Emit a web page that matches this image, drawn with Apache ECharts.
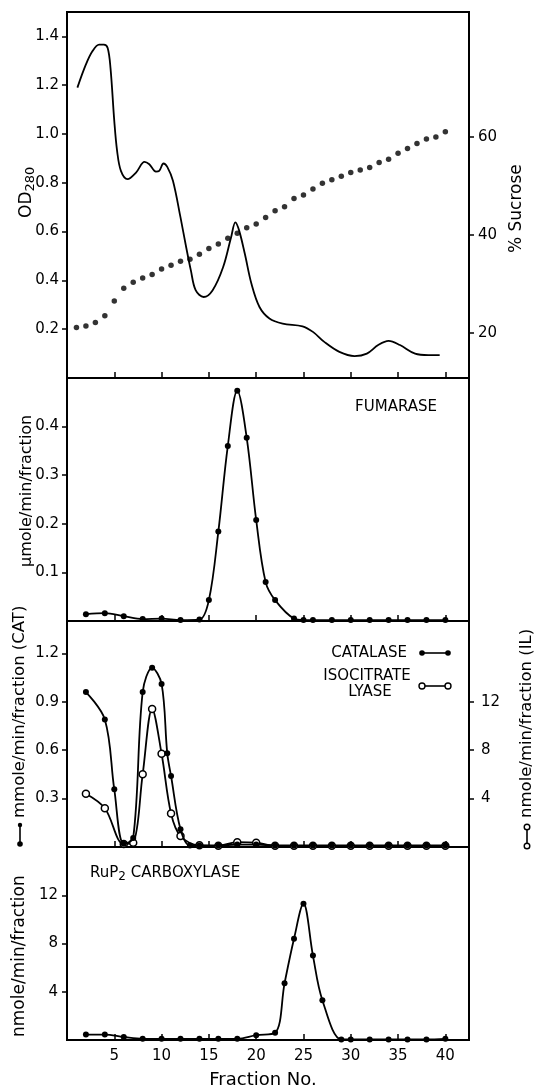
<!DOCTYPE html>
<html><head><meta charset="utf-8">
<script src="https://cdn.jsdelivr.net/npm/echarts@6/dist/echarts.min.js"></script>
<style>html,body{margin:0;padding:0;background:#fff}#c{width:544px;height:1091px}</style>
</head><body><div id="c"></div>
<script>
// ---- tick labels ----
const fractionTicks = [5, 10, 15, 20, 25, 30, 35, 40];
const odTicks = [0.2, 0.4, 0.6, 0.8, 1.0, 1.2, 1.4];
const sucroseTicks = [20, 40, 60];
const fumTicks = [0.1, 0.2, 0.3, 0.4];
const catTicks = [0.3, 0.6, 0.9, 1.2];
const ilTicks = [4, 8, 12];
const rubTicks = [4, 8, 12];

// ---- OD280 trace ----
const odFraction = [1.1,2.0,2.7,3.4,3.9,4.3,4.6,5.0,5.3,5.7,6.4,7.3,8.2,8.7,9.4,9.75,10.2,10.6,11.2,12.0,12.6,13.1,13.6,14.45,15.4,16.5,17.35,17.8,18.2,18.8,19.5,20.35,21.4,22.8,24.9,26.0,27.2,28.8,30.4,31.7,32.9,34.0,35.2,36.8,38.2,39.4];
const odValue = [1.19,1.285,1.34,1.366,1.366,1.352,1.27,1.053,0.93,0.849,0.815,0.842,0.886,0.876,0.846,0.849,0.879,0.865,0.808,0.658,0.536,0.44,0.36,0.332,0.36,0.454,0.577,0.638,0.604,0.509,0.386,0.291,0.244,0.223,0.212,0.189,0.148,0.107,0.09,0.10,0.135,0.152,0.135,0.10,0.094,0.094];

// ---- % sucrose ----
const sucroseFraction = [1,2,3,4,5,6,7,8,9,10,11,12,13,14,15,16,17,18,19,20,21,22,23,24,25,26,27,28,29,30,31,32,33,34,35,36,37,38,39,40];
const sucroseValue = [21.1,21.4,22.1,23.5,26.5,29.1,30.3,31.2,31.9,33.0,33.8,34.6,35.0,36.0,37.2,38.1,39.3,40.3,41.4,42.2,43.5,44.9,45.7,47.4,48.1,49.3,50.5,51.2,51.9,52.7,53.2,53.7,54.7,55.4,56.6,57.6,58.6,59.5,59.9,61.0];

// ---- Fumarase ----
const fumFraction = [2,4,6,8,10,12,14,15,16,17,18,19,20,21,22,24,25,26,28,30,32,34,36,38,40];
const fumValue = [0.014,0.016,0.010,0.004,0.005,0.002,0.003,0.043,0.184,0.36,0.474,0.377,0.208,0.080,0.043,0.005,0.002,0.002,0.002,0.002,0.002,0.002,0.002,0.002,0.002];

// ---- Catalase ----
const catFraction = [2,4,5,6,7,8,9,10,10.6,11,12,13,14,16,18,20,22,24,26,28,30,32,34,36,38,40];
const catValue = [0.96,0.79,0.357,0.02,0.056,0.96,1.11,1.01,0.58,0.44,0.11,0.01,0.01,0.01,0.015,0.015,0.01,0.01,0.01,0.01,0.01,0.01,0.01,0.01,0.01,0.01];

// ---- Isocitrate lyase ----
const ilFraction = [2,4,6,7,8,9,10,11,12,14,16,18,20,22,24,26,28,30,32,34,36,38,40];
const ilValue = [4.4,3.2,0.25,0.36,6.0,11.4,7.7,2.77,0.91,0.14,0.1,0.4,0.35,0.1,0.1,0.1,0.1,0.1,0.1,0.1,0.1,0.1,0.1];

// ---- RuP2 carboxylase ----
const rubFraction = [2,4,6,8,10,12,14,16,18,20,22,23,24,25,26,27,29,30,32,34,36,38,40];
const rubValue = [0.45,0.45,0.25,0.1,0.1,0.1,0.1,0.1,0.1,0.4,0.6,4.7,8.4,11.3,7.0,3.3,0.05,0.05,0.05,0.05,0.05,0.05,0.1];

const zip = (a, b) => a.map((v, i) => [v, b[i]]);
const FF = 'DejaVu Sans';
const K = '#000';

const grids = [
  {top: 12, height: 366},
  {top: 378, height: 243},
  {top: 621, height: 226},
  {top: 847, height: 193}
].map(g => Object.assign({left: 67, right: 75, show: true, borderColor: K, borderWidth: 2, backgroundColor: 'transparent'}, g));

const xAxes = [0, 1, 2, 3].map(i => ({
  type: 'value', gridIndex: i, min: 0, max: 42.5,
  axisLine: {show: true, lineStyle: {color: K, width: 2}},
  axisTick: {show: true, inside: true, length: 6, customValues: fractionTicks, lineStyle: {color: K, width: 1.5}},
  axisLabel: {show: i === 3, customValues: fractionTicks, color: K, fontFamily: FF, fontSize: 15, margin: 9},
  splitLine: {show: false}
}));

function yAx(grid, pos, min, max, ticks, fmt, margin) {
  return {
    type: 'value', gridIndex: grid, position: pos, min: min, max: max,
    axisLine: {show: true, lineStyle: {color: K, width: 2}},
    axisTick: {show: true, inside: false, length: 5, customValues: ticks, lineStyle: {color: K, width: 1.5}},
    axisLabel: {customValues: ticks, formatter: fmt, color: K, fontFamily: FF, fontSize: 15, margin: margin},
    splitLine: {show: false}
  };
}
const f1 = v => v.toFixed(1);
const f0 = v => String(Math.round(v));

const yAxes = [
  yAx(0, 'left', 0, 1.5, odTicks, f1, 8),
  yAx(0, 'right', 10.8, 85.4, sucroseTicks, f0, 9),
  yAx(1, 'left', 0, 0.5, fumTicks, f1, 8),
  yAx(2, 'left', 0, 1.4, catTicks, f1, 8),
  yAx(2, 'right', 0, 1.4 * 40 / 3, ilTicks, f0, 12),
  yAx(3, 'left', 0, 16, rubTicks, f0, 9)
];

const lineBase = {type: 'line', smooth: 0.35, lineStyle: {color: K, width: 1.8}, itemStyle: {color: K}, symbol: 'circle', symbolSize: 6};

const series = [
  Object.assign({}, lineBase, {name: 'OD280', xAxisIndex: 0, yAxisIndex: 0, showSymbol: false, smooth: 0.35, data: zip(odFraction, odValue)}),
  {name: '% Sucrose', type: 'scatter', xAxisIndex: 0, yAxisIndex: 1, symbolSize: 5.5, itemStyle: {color: K}, data: zip(sucroseFraction, sucroseValue)},
  Object.assign({}, lineBase, {name: 'Fumarase', xAxisIndex: 1, yAxisIndex: 2, data: zip(fumFraction, fumValue)}),
  Object.assign({}, lineBase, {name: 'Isocitrate lyase', xAxisIndex: 2, yAxisIndex: 4, z: 2, symbolSize: 7,
    itemStyle: {color: '#fff', borderColor: K, borderWidth: 1.5}, data: zip(ilFraction, ilValue)}),
  Object.assign({}, lineBase, {name: 'Catalase', xAxisIndex: 2, yAxisIndex: 3, z: 3, data: zip(catFraction, catValue)}),
  Object.assign({}, lineBase, {name: 'RuP2 carboxylase', xAxisIndex: 3, yAxisIndex: 5, data: zip(rubFraction, rubValue)})
];

const R90 = Math.PI / 2;
function vtext(x, y, text, size, rich) {
  return {type: 'text', x: x, y: y, rotation: R90, z: 10,
    style: {text: text, fill: K, fontFamily: FF, fontSize: size, align: 'left', verticalAlign: 'middle', rich: rich}};
}
function htext(x, y, text, size, align, rich) {
  return {type: 'text', x: x, y: y, z: 10,
    style: {text: text, fill: K, fontFamily: FF, fontSize: size, align: align, verticalAlign: 'middle', rich: rich}};
}
const subRich = (big, small, pad) => ({
  a: {fontSize: big, fontFamily: FF, fill: K},
  b: {fontSize: small, fontFamily: FF, fill: K, padding: [pad, 0, 0, 0]}
});
const dot = (x, y, r) => ({type: 'circle', z: 10, shape: {cx: x, cy: y, r: r}, style: {fill: K}});
const ring = (x, y, r) => ({type: 'circle', z: 10, shape: {cx: x, cy: y, r: r}, style: {fill: '#fff', stroke: K, lineWidth: 1.4}});
const seg = (x1, y1, x2, y2) => ({type: 'line', z: 9, shape: {x1: x1, y1: y1, x2: x2, y2: y2}, style: {stroke: K, lineWidth: 1.6}});

const graphic = [
  vtext(27, 218, '{a|OD}{b|280}', 17, subRich(17, 13, 8)),
  vtext(517, 253, '% Sucrose', 17),
  vtext(27, 567, 'µmole/min/fraction', 16),
  vtext(20, 818, 'mmole/min/fraction (CAT)', 16.5),
  seg(20, 825, 20, 844), dot(20, 825, 2.2), dot(20, 844, 2.8),
  vtext(527, 818, 'nmole/min/fraction (IL)', 16.5),
  seg(527, 827, 527, 846), ring(527, 827, 2.8), ring(527, 846, 2.8),
  vtext(20, 1037, 'nmole/min/fraction', 17),
  htext(437, 407, 'FUMARASE', 15, 'right'),
  htext(407, 653, 'CATALASE', 15, 'right'),
  seg(422, 653, 448, 653), dot(422, 653, 2.8), dot(448, 653, 2.8),
  htext(367, 676, 'ISOCITRATE', 15, 'center'),
  htext(370, 692, 'LYASE', 15, 'center'),
  seg(422, 686, 448, 686), ring(422, 686, 3), ring(448, 686, 3),
  htext(90, 873, '{a|RuP}{b|2}{a| CARBOXYLASE}', 15, 'left', subRich(15, 12, 7)),
  htext(263, 1080, 'Fraction No.', 18, 'center')
];

const chart = echarts.init(document.getElementById('c'), null, {renderer: 'canvas'});
chart.setOption({
  animation: false,
  backgroundColor: '#fff',
  grid: grids,
  xAxis: xAxes,
  yAxis: yAxes,
  series: series,
  graphic: graphic
});
</script>
</body></html>
